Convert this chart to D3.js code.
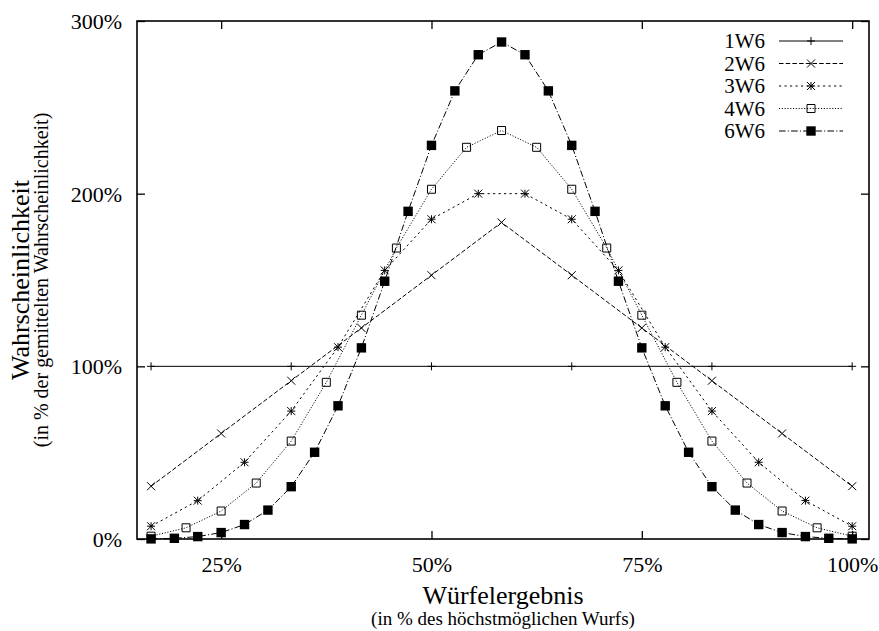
<!DOCTYPE html>
<html>
<head>
<meta charset="utf-8">
<script src="https://cdn.jsdelivr.net/npm/d3@7"></script>
<style>
  body { margin: 0; background: #fff; }
  svg { display: block; }
</style>
</head>
<body>
<svg id="chart" width="879" height="631"></svg>
<script>
// data (x in % of max roll, y in % of mean probability)
const seriesNames = ['1W6', '2W6', '3W6', '4W6', '6W6'];

const x1W6 = [16.67, 33.33, 50, 66.67, 83.33, 100];
const y1W6 = [100, 100, 100, 100, 100, 100];

const x2W6 = [16.67, 25, 33.33, 41.67, 50, 58.33, 66.67, 75, 83.33, 91.67, 100];
const y2W6 = [30.56, 61.11, 91.67, 122.22, 152.78, 183.33, 152.78, 122.22, 91.67, 61.11, 30.56];

const x3W6 = [16.67, 22.22, 27.78, 33.33, 38.89, 44.44, 50, 55.56, 61.11, 66.67, 72.22, 77.78, 83.33, 88.89, 94.44, 100];
const y3W6 = [7.41, 22.22, 44.44, 74.07, 111.11, 155.56, 185.19, 200, 200, 185.19, 155.56, 111.11, 74.07, 44.44, 22.22, 7.41];

const x4W6 = [16.67, 20.83, 25, 29.17, 33.33, 37.5, 41.67, 45.83, 50, 54.17, 58.33, 62.5, 66.67, 70.83, 75, 79.17, 83.33, 87.5, 91.67, 95.83, 100];
const y4W6 = [1.62, 6.48, 16.2, 32.41, 56.71, 90.74, 129.63, 168.52, 202.55, 226.85, 236.57, 226.85, 202.55, 168.52, 129.63, 90.74, 56.71, 32.41, 16.2, 6.48, 1.62];

const x6W6 = [16.67, 19.44, 22.22, 25, 27.78, 30.56, 33.33, 36.11, 38.89, 41.67, 44.44, 47.22, 50, 52.78, 55.56, 58.33, 61.11, 63.89, 66.67, 69.44, 72.22, 75, 77.78, 80.56, 83.33, 86.11, 88.89, 91.67, 94.44, 97.22, 100];
const y6W6 = [0.07, 0.4, 1.4, 3.72, 8.37, 16.74, 30.3, 50.23, 77.14, 110.69, 149.3, 189.76, 227.97, 259.53, 280.46, 287.83, 280.46, 259.53, 227.97, 189.76, 149.3, 110.69, 77.14, 50.23, 30.3, 16.74, 8.37, 3.72, 1.4, 0.4, 0.07];

const xTicks = [25, 50, 75, 100];
const yTicks = [0, 100, 200, 300];

const xTitle = 'Würfelergebnis';
const xSubtitle = '(in % des höchstmöglichen Wurfs)';
const yTitle = 'Wahrscheinlichkeit';
const ySubtitle = '(in % der gemittelten Wahrscheinlichkeit)';

const FONT = '"Liberation Serif", "Times New Roman", Times, "DejaVu Serif", serif';

// styling per series
const dashes = ['none', '4.5,2.2', '2.2,3.3', '1.1,1.7', '6.6,2.2,1.1,2.2'];
const markers = ['plus', 'cross', 'star', 'square', 'filled'];

const xs = [x1W6, x2W6, x3W6, x4W6, x6W6];
const ys = [y1W6, y2W6, y3W6, y4W6, y6W6];
const series = seriesNames.map((name, i) => ({
  name,
  dash: dashes[i],
  marker: markers[i],
  points: xs[i].map((x, j) => ({ x, y: ys[i][j] })),
}));

const margin = { top: 21, right: 10, bottom: 92, left: 137 };
const W = 879, H = 631;
const width = W - margin.left - margin.right;
const height = H - margin.top - margin.bottom;

const svg = d3.select('#chart');
const g = svg.append('g').attr('transform', `translate(${margin.left},${margin.top})`);

const x = d3.scaleLinear().domain([15, 102]).range([0, width]);
const y = d3.scaleLinear().domain([0, 300]).range([height, 0]);

const pct = (d) => d + '%';

// bottom axis
const xAxis = g.append('g')
  .attr('transform', `translate(0,${height})`)
  .call(d3.axisBottom(x).tickValues(xTicks).tickSize(-8).tickSizeOuter(0).tickFormat(pct));

// top axis (mirror ticks)
g.append('g')
  .call(d3.axisTop(x).tickValues(xTicks).tickSize(-8).tickSizeOuter(0).tickFormat(''));

// left axis
const yAxis = g.append('g')
  .call(d3.axisLeft(y).tickValues(yTicks).tickSize(-8).tickSizeOuter(0).tickFormat(pct));

// right axis (mirror ticks)
g.append('g')
  .attr('transform', `translate(${width},0)`)
  .call(d3.axisRight(y).tickValues(yTicks).tickSize(-8).tickSizeOuter(0).tickFormat(''));

g.selectAll('.domain').remove();
g.selectAll('.tick line').attr('stroke', '#000').attr('stroke-width', 1.3);
xAxis.selectAll('text').attr('y', 33).attr('dy', null)
  .attr('font-family', FONT).attr('font-size', 22).attr('fill', '#000');
yAxis.selectAll('text').attr('x', -15).attr('dy', '0.34em')
  .attr('font-family', FONT).attr('font-size', 22).attr('fill', '#000');

// frame
g.append('rect')
  .attr('width', width)
  .attr('height', height)
  .attr('fill', 'none')
  .attr('stroke', '#000')
  .attr('stroke-width', 1.6);

// marker shapes
function markerPath(type) {
  const s = 4;
  switch (type) {
    case 'plus': return `M${-s},0H${s}M0,${-s}V${s}`;
    case 'cross': return `M${-s},${-s}L${s},${s}M${-s},${s}L${s},${-s}`;
    case 'star': return `M${-s},0H${s}M0,${-s}V${s}M${-s},${-s}L${s},${s}M${-s},${s}L${s},${-s}`;
    case 'square': return `M${-s},${-s}H${s}V${s}H${-s}Z`;
    default: return `M-4.7,-4.7H4.7V4.7H-4.7Z`;
  }
}

function drawMarker(sel, type) {
  sel.append('path')
    .attr('d', markerPath(type))
    .attr('fill', type === 'filled' ? '#000' : 'none')
    .attr('stroke', '#000')
    .attr('stroke-width', type === 'filled' ? 0 : 1);
}

const line = d3.line().x((d) => x(d.x)).y((d) => y(d.y));

const sg = g.selectAll('.series')
  .data(series)
  .enter().append('g')
  .attr('class', 'series');

sg.append('path')
  .attr('d', (d) => line(d.points))
  .attr('fill', 'none')
  .attr('stroke', '#000')
  .attr('stroke-width', 1)
  .attr('stroke-dasharray', (d) => d.dash);

sg.each(function (s) {
  d3.select(this).selectAll('.pt')
    .data(s.points)
    .enter().append('g')
    .attr('class', 'pt')
    .attr('transform', (d) => `translate(${x(d.x)},${y(d.y)})`)
    .call(drawMarker, s.marker);
});

// legend
const legend = svg.append('g');
const rowH = 22.5;
const lg = legend.selectAll('.entry')
  .data(series)
  .enter().append('g')
  .attr('class', 'entry')
  .attr('transform', (d, i) => `translate(0,${41 + i * rowH})`);

lg.append('text')
  .attr('x', 765)
  .attr('y', 7)
  .attr('text-anchor', 'end')
  .attr('font-family', FONT)
  .attr('font-size', 21)
  .text((d) => d.name);

lg.append('line')
  .attr('x1', 779).attr('x2', 843)
  .attr('stroke', '#000')
  .attr('stroke-width', 1)
  .attr('stroke-dasharray', (d) => d.dash);

lg.each(function (s) {
  d3.select(this).append('g')
    .attr('transform', 'translate(811,0)')
    .call(drawMarker, s.marker);
});

// axis titles
const cx = margin.left + width / 2;
svg.append('text')
  .attr('x', cx).attr('y', 604)
  .attr('text-anchor', 'middle')
  .attr('font-family', FONT)
  .attr('font-size', 26)
  .text(xTitle);
svg.append('text')
  .attr('x', cx).attr('y', 625)
  .attr('text-anchor', 'middle')
  .attr('font-family', FONT)
  .attr('font-size', 19)
  .text(xSubtitle);

const cy = margin.top + height / 2;
svg.append('text')
  .attr('transform', `translate(29,${cy}) rotate(-90)`)
  .attr('text-anchor', 'middle')
  .attr('font-family', FONT)
  .attr('font-size', 26)
  .text(yTitle);
svg.append('text')
  .attr('transform', `translate(48,${cy}) rotate(-90)`)
  .attr('text-anchor', 'middle')
  .attr('font-family', FONT)
  .attr('font-size', 20)
  .text(ySubtitle);
</script>
</body>
</html>
